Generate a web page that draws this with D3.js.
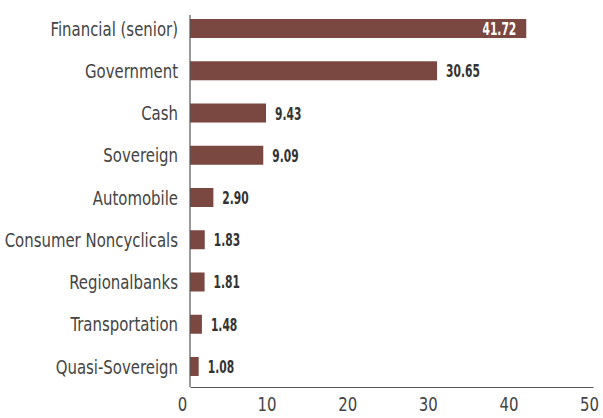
<!DOCTYPE html>
<html>
<head>
<meta charset="utf-8">
<script src="https://cdn.jsdelivr.net/npm/d3@7/dist/d3.min.js"></script>
<style>
  body { margin: 0; background: #fff; }
  svg text { font-family: "DejaVu Sans", sans-serif; font-stretch: condensed; }
</style>
</head>
<body>
<div id="chart"></div>
<script>
const categories = ["Financial (senior)", "Government", "Cash", "Sovereign", "Automobile",
  "Consumer Noncyclicals", "Regionalbanks", "Transportation", "Quasi-Sovereign"];
const values = [41.72, 30.65, 9.43, 9.09, 2.90, 1.83, 1.81, 1.48, 1.08];
const xTicks = [0, 10, 20, 30, 40, 50];

const width = 603, height = 418;
const barColor = "#7b4841";
const narrow = 0.83;

const svg = d3.select("#chart")
  .append("svg")
  .attr("width", width)
  .attr("height", height);

const x = d3.scaleLinear()
  .domain([0, 50])
  .range([190, 593]);

const y = d3.scaleBand()
  .domain(categories)
  .range([7.4, 387.6])
  .paddingInner(0.55)
  .paddingOuter(0.275);

const data = categories.map((c, i) => ({ label: c, value: values[i] }));

// bars
svg.selectAll("rect.bar")
  .data(data)
  .join("rect")
  .attr("class", "bar")
  .attr("x", x(0))
  .attr("y", d => y(d.label))
  .attr("width", d => x(d.value) - x(0))
  .attr("height", y.bandwidth())
  .attr("fill", barColor);

// x axis
const xAxis = svg.append("g")
  .attr("transform", `translate(0, 387)`)
  .call(d3.axisBottom(x).tickValues(xTicks).tickSize(0).tickPadding(10).tickFormat(d3.format("d")));
xAxis.select(".domain").attr("stroke", "#555").attr("stroke-width", 1.2);
xAxis.selectAll(".tick text")
  .attr("font-size", 20)
  .attr("fill", "#444")
  .attr("dy", "0.71em")
  .attr("transform", d => `translate(${d === 0 ? -8 : -4}, 0) scale(${narrow}, 1)`);

// y axis line
svg.append("line")
  .attr("x1", x(0)).attr("x2", x(0))
  .attr("y1", 15).attr("y2", 387)
  .attr("stroke", "#555")
  .attr("stroke-width", 1.2);

// category labels
svg.selectAll("text.cat")
  .data(data)
  .join("text")
  .attr("class", "cat")
  .attr("transform", d => `translate(${x(0) - 12}, ${y(d.label) + y.bandwidth() / 2}) scale(${narrow}, 1)`)
  .attr("dy", "0.36em")
  .attr("text-anchor", "end")
  .attr("font-size", 20)
  .attr("fill", "#444")
  .text(d => d.label);

// value labels
svg.selectAll("text.val")
  .data(data)
  .join("text")
  .attr("class", "val")
  .attr("transform", d => {
    const tx = d.value > 40 ? x(d.value) - 10 : x(d.value) + 9;
    return `translate(${tx}, ${y(d.label) + y.bandwidth() / 2}) scale(0.66, 1)`;
  })
  .attr("dy", "0.36em")
  .attr("text-anchor", d => d.value > 40 ? "end" : "start")
  .attr("font-size", 18)
  .attr("font-weight", "bold")
  .attr("fill", d => d.value > 40 ? "#fff" : "#333")
  .text(d => d.value.toFixed(2));
</script>
</body>
</html>
